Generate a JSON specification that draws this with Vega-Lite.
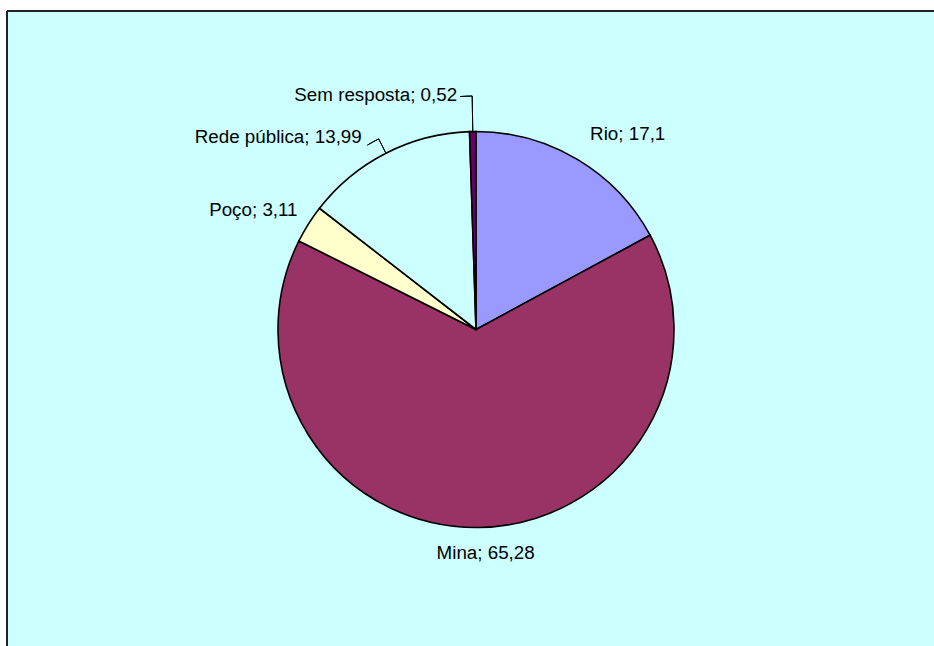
{
  "$schema": "https://vega.github.io/schema/vega-lite/v6.json",
  "width": 934,
  "height": 646,
  "autosize": {"type": "fit", "contains": "padding"},
  "padding": {"left": 6, "top": 10, "right": -2, "bottom": -2},
  "background": "white",
  "config": {
    "view": {"stroke": null},
    "text": {"font": "Liberation Sans", "fontSize": 18.8, "fill": "black"}
  },
  "datasets": {
    "water": [
      {"ord": 1, "cat": "Rio", "value": 17.1, "label": "Rio; 17,1"},
      {"ord": 2, "cat": "Mina", "value": 65.28, "label": "Mina; 65,28"},
      {"ord": 3, "cat": "Poço", "value": 3.11, "label": "Poço; 3,11"},
      {"ord": 4, "cat": "Rede pública", "value": 13.99, "label": "Rede pública; 13,99"},
      {"ord": 5, "cat": "Sem resposta", "value": 0.52, "label": "Sem resposta; 0,52"}
    ],
    "frame": [{"name": "frame"}]
  },
  "layer": [
    {
      "data": {"name": "frame"},
      "mark": {"type": "rect", "fill": "#CCFFFF", "strokeWidth": 0},
      "encoding": {
        "x": {"value": 0},
        "x2": {"value": "width"},
        "y": {"value": 0},
        "y2": {"value": "height"}
      }
    },
    {
      "data": {"name": "frame"},
      "mark": {"type": "rect", "fill": null, "stroke": "#222222", "strokeWidth": 2},
      "encoding": {
        "x": {"value": 0},
        "x2": {"value": "width"},
        "y": {"value": 0},
        "y2": {"value": 0}
      }
    },
    {
      "data": {"name": "frame"},
      "mark": {"type": "rect", "fill": null, "stroke": "#222222", "strokeWidth": 2},
      "encoding": {
        "x": {"value": 0},
        "x2": {"value": 0},
        "y": {"value": 0},
        "y2": {"value": "height"}
      }
    },
    {
      "data": {"name": "water"},
      "encoding": {
        "theta": {"field": "value", "type": "quantitative", "stack": true},
        "order": {"field": "ord", "type": "quantitative"}
      },
      "layer": [
        {
          "mark": {"type": "arc", "radius": 198, "stroke": "black", "strokeWidth": 1.6, "xOffset": 5, "yOffset": 0.5},
          "encoding": {
            "color": {
              "field": "cat",
              "type": "nominal",
              "scale": {
                "domain": ["Rio", "Mina", "Poço", "Rede pública", "Sem resposta"],
                "range": ["#9999FF", "#993366", "#FFFFCC", "#CCFFFF", "#660066"]
              },
              "legend": null
            }
          }
        },
        {
          "mark": {"type": "arc", "radius": 233.5, "radius2": 198, "padAngle": 1, "filled": false, "stroke": "black", "strokeWidth": 1, "xOffset": 5, "yOffset": 0.5},
          "encoding": {
            "strokeOpacity": {"condition": {"test": "datum.cat === 'Sem resposta'", "value": 1}, "value": 0}
          }
        },
        {
          "mark": {"type": "arc", "radius": 233.5, "radius2": 233.5, "padAngle": 0.57596, "thetaOffset": 0.42972, "filled": false, "stroke": "black", "strokeWidth": 1, "xOffset": 5, "yOffset": 0.5},
          "encoding": {
            "strokeOpacity": {"condition": {"test": "datum.cat === 'Rede pública'", "value": 1}, "value": 0}
          }
        },
        {
          "mark": {"type": "arc", "radius": 214, "radius2": 198, "padAngle": 1, "filled": false, "stroke": "black", "strokeWidth": 1, "xOffset": 5, "yOffset": 0.5},
          "encoding": {
            "strokeOpacity": {"condition": {"test": "datum.cat === 'Rede pública'", "value": 1}, "value": 0}
          }
        },
        {
          "mark": {"type": "arc", "radius": 214, "radius2": 214, "padAngle": 0.57069, "thetaOffset": -0.030072, "filled": false, "stroke": "black", "strokeWidth": 1, "xOffset": 5, "yOffset": 0.5},
          "encoding": {
            "strokeOpacity": {"condition": {"test": "datum.cat === 'Rede pública'", "value": 1}, "value": 0}
          }
        },
        {
          "mark": {"type": "text", "radius": 223, "align": "left", "baseline": "middle", "xOffset": 5, "yOffset": 0.5, "dy": -4},
          "encoding": {"text": {"condition": {"test": "datum.cat === 'Rio'", "field": "label"}, "value": ""}}
        },
        {
          "mark": {"type": "text", "radius": 224, "align": "center", "baseline": "middle", "xOffset": 5, "yOffset": 0.5, "dx": 6},
          "encoding": {"text": {"condition": {"test": "datum.cat === 'Mina'", "field": "label"}, "value": ""}}
        },
        {
          "mark": {"type": "text", "radius": 212, "align": "right", "baseline": "middle", "xOffset": 5, "yOffset": 0.5, "dx": 1, "dy": -7},
          "encoding": {"text": {"condition": {"test": "datum.cat === 'Poço'", "field": "label"}, "value": ""}}
        },
        {
          "mark": {"type": "text", "radius": 216, "align": "right", "baseline": "middle", "xOffset": 5, "yOffset": 0.5, "dx": -16},
          "encoding": {"text": {"condition": {"test": "datum.cat === 'Rede pública'", "field": "label"}, "value": ""}}
        },
        {
          "mark": {"type": "text", "radius": 234.5, "align": "right", "baseline": "middle", "xOffset": 5, "yOffset": 0.5, "dx": -15},
          "encoding": {"text": {"condition": {"test": "datum.cat === 'Sem resposta'", "field": "label"}, "value": ""}}
        }
      ]
    }
  ]
}
